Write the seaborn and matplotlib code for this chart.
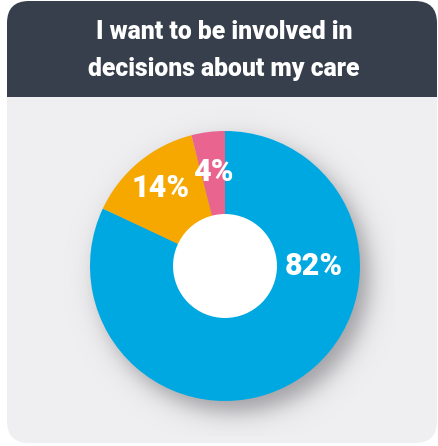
import numpy as np
import matplotlib
matplotlib.use("Agg")
import matplotlib.pyplot as plt
import seaborn as sns
from matplotlib.patches import FancyBboxPatch, Rectangle, Circle

# ---- data ----
categories = ["Involved", "Somewhat", "Not"]
values = [82, 14, 4]
labels = ["82%", "14%", "4%"]
title_lines = ["I want to be involved in", "decisions about my care"]

# ---- style ----
sns.set_theme(style="white")
plt.rcParams['font.family'] = ['Roboto', 'DejaVu Sans']
colors = sns.color_palette(["#00a8e1", "#f6a800", "#ea6490"])
header_col = "#363f4b"
panel_col = "#efeff1"

W, H = 439, 446
fig = plt.figure(figsize=(W / 100, H / 100), dpi=100)
fig.patch.set_facecolor("white")

# background card axes (pixel coordinates)
bg = fig.add_axes([0, 0, 1, 1])
bg.set_xlim(0, W)
bg.set_ylim(H, 0)
bg.axis("off")
rs = 22
bg.add_patch(FancyBboxPatch((7, 1), 430, 200, boxstyle=f"round,pad=0,rounding_size={rs}",
                            fc=header_col, ec="none", zorder=1))
bg.add_patch(Rectangle((7, 97), 430, 200, fc=panel_col, ec="none", zorder=2))
bg.add_patch(FancyBboxPatch((7, 150), 430, 293, boxstyle=f"round,pad=0,rounding_size={rs}",
                            fc=panel_col, ec="none", zorder=2))
bg.text(224, 32, title_lines[0], color="white", fontsize=17.8, fontweight="heavy",
        ha="center", va="center", zorder=3)
bg.text(224, 69, title_lines[1], color="white", fontsize=17.8, fontweight="heavy",
        ha="center", va="center", zorder=3)

# pie axes: centre at (225, 266) px, radius 135 px
R = 135.0
cx, cy = 225.0, 266.0
half = 170.0
ax = fig.add_axes([(cx - half) / W, (H - cy - half) / H, 2 * half / W, 2 * half / H])
ax.set_facecolor("none")

# soft shadow
L = half / R
n = 500
xs = np.linspace(-L, L, n)
X, Y = np.meshgrid(xs, xs[::-1])
d = np.hypot(X - 9 / R, Y + 11 / R)
a = 0.75 / (1 + np.exp((d - 1.0) / (7 / R)))
img = np.zeros((n, n, 4))
img[..., 0] = 0.52
img[..., 1] = 0.52
img[..., 2] = 0.54
img[..., 3] = a
ax.imshow(img, extent=(-L, L, -L, L), zorder=0, interpolation="bilinear")

wedges, _ = ax.pie(values, colors=colors, startangle=90, counterclock=False,
                   radius=1.0, wedgeprops=dict(linewidth=0, width=1 - 0.38))
for w in wedges:
    w.set_zorder(2)
ax.add_patch(Circle((0, 0), 0.385, fc="white", ec="none", zorder=3))

# labels
label_r = [0.66, 0.75, 0.70]
label_ang_override = [0.0, None, None]
start = 90.0
total = sum(values)
for v, lab, r, ov in zip(values, labels, label_r, label_ang_override):
    span = 360.0 * v / total
    mid = start - span / 2
    start -= span
    ang = np.deg2rad(ov if ov is not None else mid)
    ax.text(r * np.cos(ang), r * np.sin(ang), lab, color="white", fontsize=22,
            fontweight="heavy", ha="center", va="center", zorder=4)

ax.set_xlim(-L, L)
ax.set_ylim(-L, L)
ax.set_aspect("equal")
ax.axis("off")

fig.savefig("out.png", dpi=100, facecolor="white")
